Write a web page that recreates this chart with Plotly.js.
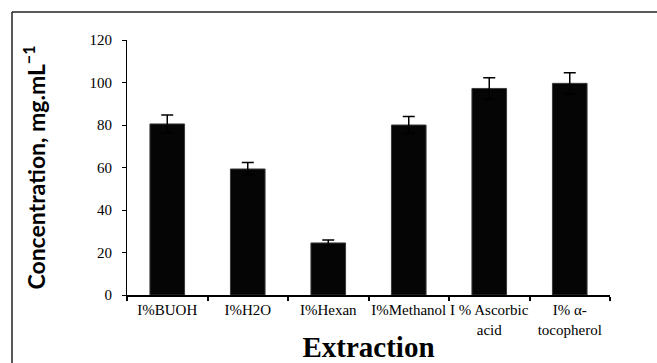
<!DOCTYPE html>
<html>
<head>
<meta charset="utf-8">
<script src="https://cdn.plot.ly/plotly-3.0.1.min.js"></script>
<style>
html,body{margin:0;padding:0;background:#fff;}
#chart{width:657px;height:363px;}
</style>
</head>
<body>
<div id="chart"></div>
<script>
const categories = ["I%BUOH", "I%H2O", "I%Hexan", "I%Methanol", "I % Ascorbic<br>acid", "I% α-<br>tocopherol"];
const concentration = [80.5, 59.3, 24.5, 80.0, 97.2, 99.6];
const errorUp = [4.2, 3.0, 1.4, 4.0, 5.0, 5.0];
const yTickValues = [0, 20, 40, 60, 80, 100, 120];

const W = 657, H = 363;
const m = {l: 127, r: 47, t: 40, b: 68};
const pw = W - m.l - m.r, ph = H - m.t - m.b;
const px = v => (v - m.l) / pw;
const py = v => (H - m.b - v) / ph;

const trace = {
  type: "bar",
  x: categories,
  y: concentration,
  marker: {color: "#050505", line: {color: "#3a3a3a", width: 1}},
  error_y: {type: "data", array: errorUp, symmetric: true, color: "#000", thickness: 1.5, width: 6},
  hoverinfo: "x+y"
};

const layout = {
  width: W, height: H,
  margin: m,
  paper_bgcolor: "#fff",
  plot_bgcolor: "#fff",
  showlegend: false,
  bargap: 0.57,
  font: {family: "Liberation Serif, serif", color: "#000", size: 15},
  xaxis: {
    type: "category",
    tickangle: 0,
    showline: true, linecolor: "#000", linewidth: 2,
    ticks: "outside", tickson: "boundaries", ticklen: 4, tickwidth: 2, tickcolor: "#000",
    tickfont: {family: "Liberation Serif, serif", size: 15, color: "#000"},
    showgrid: false, zeroline: false,
    title: {text: "<b>Extraction</b>", font: {family: "Liberation Serif, serif", size: 29, color: "#000"}, standoff: 0}
  },
  yaxis: {
    range: [0, 120],
    tickvals: yTickValues,
    showline: true, linecolor: "#000", linewidth: 1,
    ticks: "outside", ticklen: 4, tickcolor: "#000",
    tickfont: {family: "Liberation Serif, serif", size: 15, color: "#000"},
    ticklabelstandoff: 7,
    showgrid: false, zeroline: false,
    title: {text: "<b>Concentration, mg.mL<sup>−1</sup></b>", font: {family: "Lato, sans-serif", size: 23, color: "#000"}, standoff: 37}
  },
  shapes: [
    {type: "line", xref: "paper", yref: "paper", x0: px(12), x1: px(657), y0: py(12), y1: py(12), line: {color: "#222", width: 1.5}},
    {type: "line", xref: "paper", yref: "paper", x0: px(12), x1: px(12), y0: py(12), y1: py(363), line: {color: "#222", width: 1.5}}
  ]
};

Plotly.newPlot("chart", [trace], layout, {displayModeBar: false, staticPlot: true});
</script>
</body>
</html>
